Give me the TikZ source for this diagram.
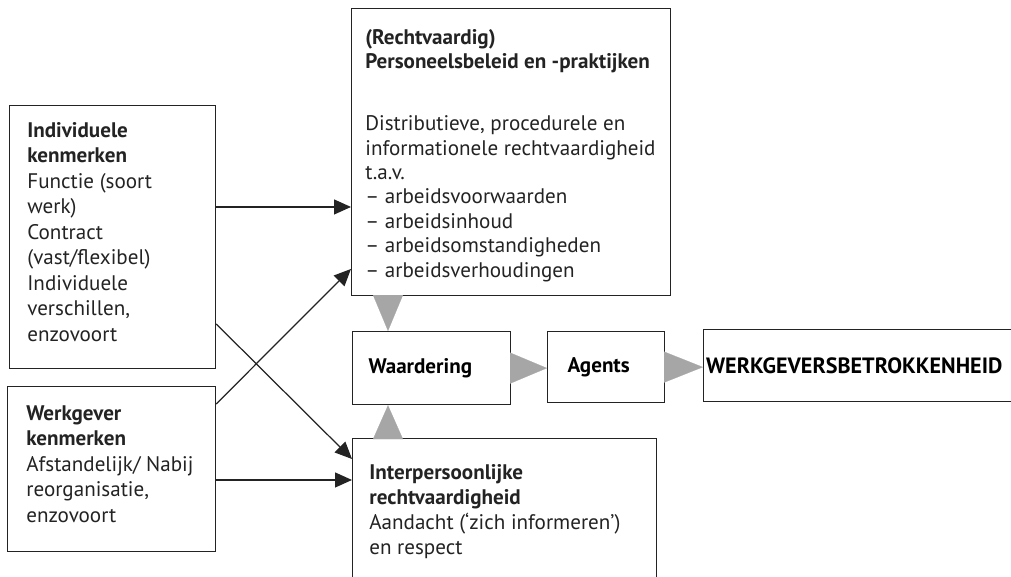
\documentclass[tikz,border=0pt,12pt]{standalone}
\usepackage{fontspec}
\setmainfont{PT Sans}
\usetikzlibrary{arrows.meta}

\definecolor{tipgray}{RGB}{166,166,166}
\definecolor{linegray}{RGB}{35,35,35}

\tikzset{
  box/.style={draw=linegray, line width=0.7pt, anchor=north west, inner sep=0pt},
  txt/.style={anchor=north west, align=left, inner sep=0pt, text=linegray,
    font=\fontsize{12}{#1}\selectfont},
  txt/.default=14.5pt,
  arr/.style={linegray, line width=0.7pt, -{Triangle[length=0.34cm,width=0.3cm]}},
  gtip/.style 2 args={tipgray, line width=0.1pt, -{Triangle[length=#1,width=#2]}}
}

\begin{document}
\begin{tikzpicture}[x=0.02cm,y=-0.02cm]
\clip (0,0) rectangle (1011,577);

% boxes
\node[box, minimum width=6.38cm, minimum height=5.74cm] (pers) at (351,8) {};
\node[txt=13.9pt] (pers-t) at (365,29) {\textbf{(Rechtvaardig)}\\
  \textbf{Personeelsbeleid en -praktijken}\\[0.75cm]
  Distributieve, procedurele en\\
  informationele rechtvaardigheid\\
  t.a.v.\\
  -- arbeidsvoorwaarden\\
  -- arbeidsinhoud\\
  -- arbeidsomstandigheden\\
  -- arbeidsverhoudingen};

\node[box, minimum width=4.12cm, minimum height=5.26cm] (ind) at (9,105) {};
\node[txt] (ind-t) at (27,122) {\textbf{Individuele}\\
  \textbf{kenmerken}\\
  Functie (soort\\
  werk)\\
  Contract\\
  (vast/flexibel)\\
  Individuele\\
  verschillen,\\
  enzovoort};

\node[box, minimum width=4.16cm, minimum height=3.30cm] (wg) at (7,386) {};
\node[txt] (wg-t) at (26,405) {\textbf{Werkgever}\\
  \textbf{kenmerken}\\
  Afstandelijk/ Nabij\\
  reorganisatie,\\
  enzovoort};

\node[box, minimum width=6.08cm, minimum height=4cm] (interp) at (352,438) {};
\node[txt=14.2pt] (interp-t) at (369,464) {\textbf{Interpersoonlijke}\\
  \textbf{rechtvaardigheid}\\
  Aandacht (‘zich informeren’)\\
  en respect};

\node[box, minimum width=3.16cm, minimum height=1.46cm, text width=2.52cm,
  inner xsep=0.32cm, align=left, font=\bfseries] (waard) at (352,331) {Waardering};
\node[box, minimum width=2.34cm, minimum height=1.42cm, text width=1.54cm,
  inner xsep=0.4cm, align=left, font=\bfseries] (agents) at (547,331) {Agents};
\node[box, minimum width=6.6cm, minimum height=1.44cm, text width=6.5cm,
  inner xsep=0.05cm, align=left, font=\fontsize{12.6}{15}\selectfont\bfseries]
  (werk) at (703,329) {WERKGEVERSBETROKKENHEID};

% black arrows
\coordinate (ind-a) at ([yshift=-2.04cm]ind.north east);
\coordinate (ind-b) at ([yshift=-4.38cm]ind.north east);
\coordinate (wg-a) at ([yshift=-0.36cm]wg.north east);
\coordinate (wg-b) at ([yshift=-1.88cm]wg.north east);
\coordinate (pers-in) at ([yshift=-5.22cm]pers.north west);
\coordinate (interp-in) at ([yshift=-0.42cm]interp.north west);

\draw[arr] (ind-a) -- (ind-a -| pers.west);
\draw[arr] (wg-a) -- (pers-in);
\draw[arr] (ind-b) -- (interp-in);
\draw[arr] (wg-b) -- (wg-b -| interp.west);

% grey triangles
\coordinate (w-top) at ([xshift=0.72cm]waard.north west);
\coordinate (w-bot) at ([xshift=0.72cm]waard.south west);
\draw[gtip={0.72cm}{0.6cm}] (w-top |- pers.south) -- (w-top);
\draw[gtip={0.68cm}{0.6cm}] (w-bot |- interp.north) -- (w-bot);
\draw[gtip={0.74cm}{0.62cm}] (waard.east) -- (waard.east -| agents.west);
\draw[gtip={0.78cm}{0.62cm}] (agents.east) -- (agents.east -| werk.west);
\end{tikzpicture}
\end{document}
